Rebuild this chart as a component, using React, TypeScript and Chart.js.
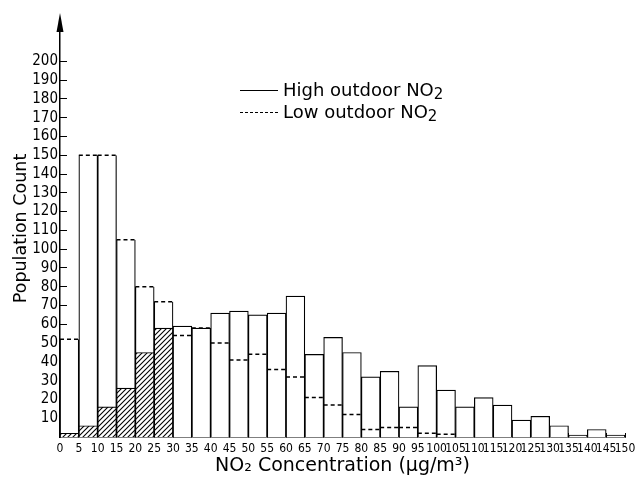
import React, { useEffect, useRef } from "react";
import { Chart, registerables } from "chart.js";

Chart.register(...registerables);

// Bin categories (NO2 concentration, µg/m³)
const binLabels = [
  "0-5", "5-10", "10-15", "15-20", "20-25", "25-30", "30-35", "35-40", "40-45", "45-50",
  "50-55", "55-60", "60-65", "65-70", "70-75", "75-80", "80-85", "85-90", "90-95", "95-100",
  "100-105", "105-110", "110-115", "115-120", "120-125", "125-130", "130-135", "135-140", "140-145", "145-150",
];
const binStarts = [0, 5, 10, 15, 20, 25, 30, 35, 40, 45, 50, 55, 60, 65, 70, 75, 80, 85, 90, 95, 100, 105, 110, 115, 120, 125, 130, 135, 140, 145];
const binEnds = [5, 10, 15, 20, 25, 30, 35, 40, 45, 50, 55, 60, 65, 70, 75, 80, 85, 90, 95, 100, 105, 110, 115, 120, 125, 130, 135, 140, 145, 150];

// Population counts
const highOutdoor = [2, 6, 16, 26, 45, 58, 59, 58, 66, 67, 65, 66, 75, 44, 53, 45, 32, 35, 16, 38, 25, 16, 21, 17, 9, 11, 6, 1, 4, 1];
const lowOutdoor = [52, 150, 150, 105, 80, 72, 54, 58, 50, 41, 44, 36, 32, 21, 17, 12, 4, 5, 5, 2, 1.5, 0, 0, 0, 0, 0, 0, 0, 0, 0];

// Tick labels
const xTickValues = [0, 5, 10, 15, 20, 25, 30, 35, 40, 45, 50, 55, 60, 65, 70, 75, 80, 85, 90, 95, 100, 105, 110, 115, 120, 125, 130, 135, 140, 145, 150];
const yTickValues = [10, 20, 30, 40, 50, 60, 70, 80, 90, 100, 110, 120, 130, 140, 150, 160, 170, 180, 190, 200];

const narrow = "'Liberation Sans Narrow', 'DejaVu Sans Condensed', 'Liberation Sans', sans-serif";
const titleFont = "'DejaVu Sans', sans-serif";

function makeHatch(): CanvasPattern | string {
  const c = document.createElement("canvas");
  const s = 5;
  c.width = s;
  c.height = s;
  const g = c.getContext("2d");
  if (!g) return "white";
  g.fillStyle = "white";
  g.fillRect(0, 0, s, s);
  g.strokeStyle = "black";
  g.lineWidth = 1.1;
  g.beginPath();
  g.moveTo(-1, s + 1);
  g.lineTo(s + 1, -1);
  g.moveTo(-1, 1);
  g.lineTo(1, -1);
  g.moveTo(s - 1, s + 1);
  g.lineTo(s + 1, s - 1);
  g.stroke();
  const p = g.createPattern(c, "repeat");
  return p || "white";
}

const arrowPlugin = {
  id: "axisArrow",
  afterDraw(chart: any) {
    const { ctx, chartArea } = chart;
    const x = chartArea.left;
    const top = chartArea.top;
    ctx.save();
    ctx.fillStyle = "black";
    ctx.beginPath();
    ctx.moveTo(x, top - 7);
    ctx.lineTo(x - 3.5, top + 12);
    ctx.lineTo(x + 3.5, top + 12);
    ctx.closePath();
    ctx.fill();
    ctx.restore();
  },
};

export default function App() {
  const ref = useRef<HTMLCanvasElement | null>(null);

  useEffect(() => {
    if (!ref.current) return;
    const hatch = makeHatch();

    const dashPoints: any[] = [];
    lowOutdoor.forEach((v, i) => {
      if (v > 0) {
        dashPoints.push({ x: binStarts[i], y: v });
        dashPoints.push({ x: binEnds[i], y: v });
        dashPoints.push({ x: binEnds[i], y: null });
      }
    });

    const chart = new Chart(ref.current, {
      type: "bar",
      data: {
        labels: binLabels,
        datasets: [
          {
            type: "line",
            label: "Low outdoor NO2 (top)",
            data: dashPoints,
            xAxisID: "x2",
            borderColor: "black",
            borderWidth: 1.5,
            borderDash: [4, 3],
            pointRadius: 0,
            spanGaps: false,
            fill: false,
            order: 0,
          } as any,
          {
            type: "bar",
            label: "High outdoor NO2",
            data: highOutdoor,
            xAxisID: "x",
            backgroundColor: (c: any) =>
              highOutdoor[c.dataIndex] < lowOutdoor[c.dataIndex] ? hatch : "white",
            borderColor: "black",
            borderWidth: 1.2,
            grouped: false,
            barPercentage: 1,
            categoryPercentage: 1,
            order: 1,
          } as any,
          {
            type: "bar",
            label: "Low outdoor NO2",
            data: lowOutdoor,
            xAxisID: "x",
            backgroundColor: "white",
            borderColor: "black",
            borderWidth: 1.2,
            borderSkipped: "top",
            grouped: false,
            barPercentage: 1,
            categoryPercentage: 1,
            order: 2,
          } as any,
        ],
      },
      options: {
        animation: false,
        responsive: false,
        maintainAspectRatio: false,
        layout: { padding: { top: 20, right: 11, bottom: 0, left: 0 } },
        plugins: {
          legend: { display: false },
          tooltip: { enabled: false },
        },
        scales: {
          x: {
            type: "category",
            display: false,
            offset: true,
          },
          x2: {
            type: "linear",
            position: "bottom",
            min: 0,
            max: 150,
            offset: false,
            afterBuildTicks: (axis: any) => {
              axis.ticks = xTickValues.map((v) => ({ value: v }));
            },
            afterFit: (axis: any) => {
              axis.height = 52;
              axis.paddingLeft = 0;
              axis.paddingRight = 0;
            },
            ticks: {
              autoSkip: false,
              maxRotation: 0,
              minRotation: 0,
              padding: 9,
              color: "black",
              font: { family: narrow, size: 12 },
            },
            grid: { drawOnChartArea: false, offset: false, tickLength: -4, color: "black", lineWidth: 1 },
            border: { display: true, color: "black", width: 1.5 },
            title: {
              display: true,
              text: "NO₂ Concentration (μg/m³)",
              color: "black",
              font: { family: titleFont, size: 19 },
              padding: { top: 0, bottom: 12 },
            },
          },
          y: {
            type: "linear",
            min: 0,
            max: 222,
            afterBuildTicks: (axis: any) => {
              axis.ticks = yTickValues.map((v) => ({ value: v }));
            },
            afterFit: (axis: any) => {
              axis.width = 60;
            },
            ticks: {
              padding: 9,
              color: "black",
              font: { family: narrow, size: 15 },
            },
            grid: { drawOnChartArea: false, tickLength: -7, color: "black", lineWidth: 1 },
            border: { display: true, color: "black", width: 1.5 },
            title: {
              display: true,
              text: "Population Count",
              color: "black",
              font: { family: titleFont, size: 17.5 },
              padding: { top: 11, bottom: 0 },
            },
          },
        },
      },
      plugins: [arrowPlugin],
    } as any);

    return () => chart.destroy();
  }, []);

  const legendRow: React.CSSProperties = {
    position: "absolute",
    left: 240,
    display: "flex",
    alignItems: "center",
    fontFamily: titleFont,
    fontSize: 18,
    color: "black",
    whiteSpace: "nowrap",
    lineHeight: "20px",
  };

  return (
    <div style={{ position: "fixed", left: 0, top: 0, width: 636, height: 489, background: "white" }}>
      <canvas ref={ref} width={636} height={489} style={{ display: "block", width: 636, height: 489 }} />
      <div style={{ ...legendRow, top: 80 }}>
        <span style={{ display: "inline-block", width: 38, borderTop: "1.5px solid black", marginRight: 5 }} />
        <span>
          High outdoor NO<span style={{ fontSize: 15, position: "relative", top: 3 }}>2</span>
        </span>
      </div>
      <div style={{ ...legendRow, top: 102 }}>
        <span style={{ display: "inline-block", width: 38, borderTop: "1.5px dashed black", marginRight: 5 }} />
        <span>
          Low outdoor NO<span style={{ fontSize: 15, position: "relative", top: 3 }}>2</span>
        </span>
      </div>
    </div>
  );
}
